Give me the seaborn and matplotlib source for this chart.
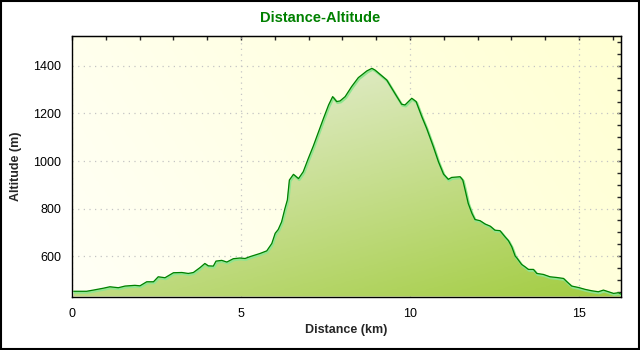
import numpy as np
import matplotlib
matplotlib.use("Agg")
import matplotlib.pyplot as plt
import seaborn as sns
from matplotlib import patheffects as pe
from matplotlib.colors import LinearSegmentedColormap
from matplotlib.patches import Rectangle
from matplotlib.ticker import MultipleLocator

# Elevation profile of the route
distance_km = [
    0.05, 0.43, 0.63, 0.93, 1.12, 1.37, 1.57, 1.86, 2.01, 2.21, 2.41, 2.55, 2.75,
    3.00, 3.25, 3.44, 3.59, 3.79, 3.93, 4.03, 4.18, 4.26, 4.43, 4.58, 4.77, 4.97,
    5.12, 5.27, 5.56, 5.76, 5.91, 6.01, 6.10, 6.20, 6.30, 6.37, 6.43, 6.55, 6.70,
    6.84, 6.99, 7.14, 7.44, 7.59, 7.71, 7.83, 7.93, 8.08, 8.27, 8.47, 8.57, 8.72,
    8.87, 8.96, 9.11, 9.31, 9.46, 9.61, 9.75, 9.85, 9.95, 10.05, 10.18, 10.35,
    10.49, 10.69, 10.84, 10.99, 11.13, 11.23, 11.48, 11.56, 11.63, 11.72, 11.83,
    11.92, 12.07, 12.22, 12.37, 12.51, 12.66, 12.81, 12.91, 13.01, 13.11, 13.16,
    13.30, 13.40, 13.50, 13.65, 13.75, 13.94, 14.14, 14.34, 14.54, 14.64, 14.78,
    14.98, 15.18, 15.38, 15.57, 15.72, 15.87, 16.02, 16.16, 16.24,
]
altitude_m = [
    452, 452, 457, 465, 471, 467, 474, 477, 475, 492, 492, 513, 509,
    530, 531, 527, 531, 552, 569, 559, 558, 579, 582, 575, 589, 592,
    590, 598, 611, 622, 653, 696, 712, 744, 801, 836, 920, 944, 926,
    955, 1011, 1064, 1180, 1236, 1271, 1250, 1253, 1271, 1313, 1351, 1362, 1379,
    1390, 1383, 1365, 1341, 1306, 1271, 1239, 1236, 1250, 1264, 1250, 1186,
    1138, 1060, 997, 945, 923, 931, 934, 920, 878, 822, 780,
    754, 749, 735, 726, 709, 707, 681, 665, 639, 600, 592,
    565, 555, 544, 544, 527, 523, 513, 510, 506, 492, 474,
    468, 460, 454, 450, 457, 450, 443, 446, 440,
]

x_ticks = [0, 5, 10, 15]
y_ticks = [600, 800, 1000, 1200, 1400]

sns.set_style("white")
plt.rcParams["font.family"] = ["Liberation Sans", "DejaVu Sans"]

x0, x1 = 0, 16.24
y0, y1 = 430, 1526

fig = plt.figure(figsize=(6.4, 3.5), dpi=100)
ax = fig.add_axes([72 / 640, 1 - 296.5 / 350, 549 / 640, 260.5 / 350])
ax.set_xlim(x0, x1)
ax.set_ylim(y0, y1)

# Pale yellow plot background, slightly warmer towards the right
gx, gy = np.meshgrid(np.linspace(0, 1, 200), np.linspace(0, 1, 120))
bg_t = 0.75 * gx + 0.25 * gy
bg_cmap = LinearSegmentedColormap.from_list("bg", ["#FFFFF6", "#FFFFD3"])
ax.imshow(bg_cmap(bg_t), extent=[x0, x1, y0, y1], origin="lower",
          aspect="auto", zorder=0, interpolation="bilinear")

# Area under the profile with a diagonal green gradient
poly = ax.fill_between(distance_km, altitude_m, y0, color="none", lw=0)
fx, fy = np.meshgrid(np.linspace(x0, x1, 300), np.linspace(y0, y1, 200))
fill_t = 0.6 * (1 - (fy - y0) / (1400 - y0)) + 0.4 * (fx / x1)
fill_cmap = LinearSegmentedColormap.from_list("fill", ["#EEF2E4", "#A2CC40"])
im = ax.imshow(fill_cmap(np.clip(fill_t, 0, 1)), extent=[x0, x1, y0, y1],
               origin="lower", aspect="auto", zorder=1, interpolation="bilinear")
im.set_clip_path(poly.get_paths()[0], ax.transData)

sns.lineplot(x=distance_km, y=altitude_m, ax=ax, color="#008000", lw=0.9,
             zorder=3,
             path_effects=[pe.Stroke(linewidth=1.8, foreground="#8FE58F",
                                     offset=(0.6, -0.9)),
                           pe.Normal()])

ax.set_xticks(x_ticks)
ax.set_yticks(y_ticks)
ax.xaxis.set_minor_locator(MultipleLocator(1))
ax.yaxis.set_minor_locator(MultipleLocator(50))
ax.set_axisbelow(True)
ax.grid(True, which="major", color="#C4C4C4", linestyle=(0, (1, 3.5)), lw=0.9)
ax.tick_params(which="major", direction="out", length=5, width=1,
               color="black", labelsize=9, labelcolor="black", pad=3)
ax.tick_params(which="minor", direction="out", length=3, width=1, color="black")
for s in ax.spines.values():
    s.set_color("black")
    s.set_linewidth(1)

top = ax.secondary_xaxis("top")
top.xaxis.set_major_locator(MultipleLocator(1))
top.tick_params(direction="in", length=3, width=1, labeltop=False)
right = ax.secondary_yaxis("right")
right.yaxis.set_major_locator(MultipleLocator(50))
right.tick_params(direction="in", length=3, width=1, labelright=False)

ax.set_xlabel("")
ax.set_ylabel("")
fig.text(346 / 640, 1 - 330 / 350, "Distance (km)", ha="center", va="center",
         fontsize=9, fontweight="bold")
fig.text(16 / 640, 1 - 166 / 350, "Altitude (m)", ha="center", va="center",
         rotation=90, fontsize=9, fontweight="bold")
fig.text(320 / 640, 1 - 18 / 350, "Distance-Altitude", ha="center", va="center",
         fontsize=10.5, fontweight="bold", color="#008000")

fig.add_artist(Rectangle((1 / 640, 1.5 / 350), 637.5 / 640, 347.5 / 350,
                         transform=fig.transFigure, fill=False,
                         edgecolor="black", lw=1.5))

fig.savefig("out.png", dpi=100, facecolor="white")
